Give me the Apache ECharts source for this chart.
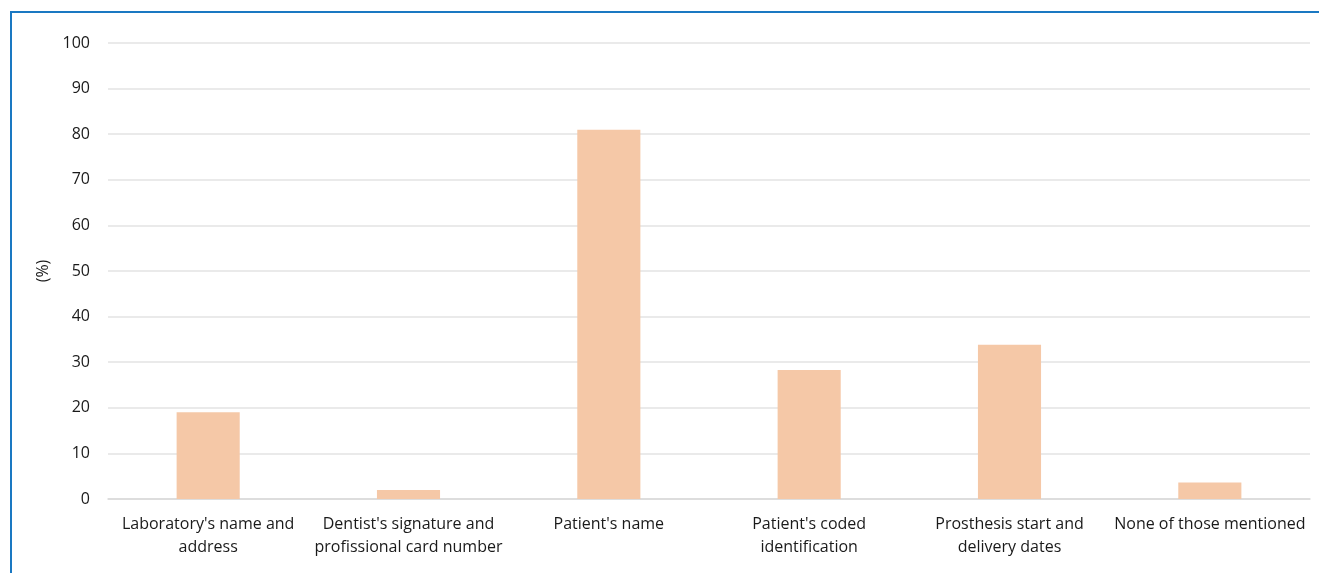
<!DOCTYPE html>
<html>
<head>
<meta charset="utf-8">
<script src="https://cdn.jsdelivr.net/npm/echarts@6/dist/echarts.min.js"></script>
<style>
  html, body { margin: 0; padding: 0; background: #fff; }
  #frame {
    position: absolute; left: 10px; top: 11px; width: 1309px; height: 562px;
    border-top: 2px solid #1a78c2; border-left: 2px solid #1a78c2;
  }
  #chart { position: absolute; left: 0; top: 0; width: 1319px; height: 573px; }
</style>
</head>
<body>
<div id="frame"></div>
<div id="chart"></div>
<script>
const categories = [
  "Laboratory's name and\naddress",
  "Dentist's signature and\nprofissional card number",
  "Patient's name",
  "Patient's coded\nidentification",
  "Prosthesis start and\ndelivery dates",
  "None of those mentioned"
];
const percentages = [19, 2, 81, 28.3, 33.8, 3.6];

const chart = echarts.init(document.getElementById('chart'));
const textFont = '"Open Sans", "Noto Sans", sans-serif';
chart.setOption({
  animation: false,
  grid: { left: 108, right: 9, top: 43, bottom: 74 },
  xAxis: {
    type: 'category',
    data: categories,
    axisLine: { show: true, lineStyle: { color: '#d9d9d9', width: 1.5 } },
    axisTick: { show: false },
    axisLabel: {
      interval: 0, color: '#1a1a1a', fontFamily: textFont, fontSize: 16,
      lineHeight: 23, margin: 14
    }
  },
  yAxis: {
    type: 'value', min: 0, max: 100, interval: 10,
    name: '(%)', nameLocation: 'middle', nameGap: 52, nameRotate: 90,
    nameTextStyle: { color: '#1a1a1a', fontFamily: textFont, fontSize: 16 },
    axisLine: { show: false }, axisTick: { show: false },
    axisLabel: { color: '#1a1a1a', fontFamily: textFont, fontSize: 16, margin: 18 },
    splitLine: { lineStyle: { color: '#e3e3e3', width: 1.5 } }
  },
  series: [{
    type: 'bar',
    data: percentages,
    barWidth: '31.5%',
    itemStyle: { color: '#f5c8a7' }
  }]
});
</script>
</body>
</html>
